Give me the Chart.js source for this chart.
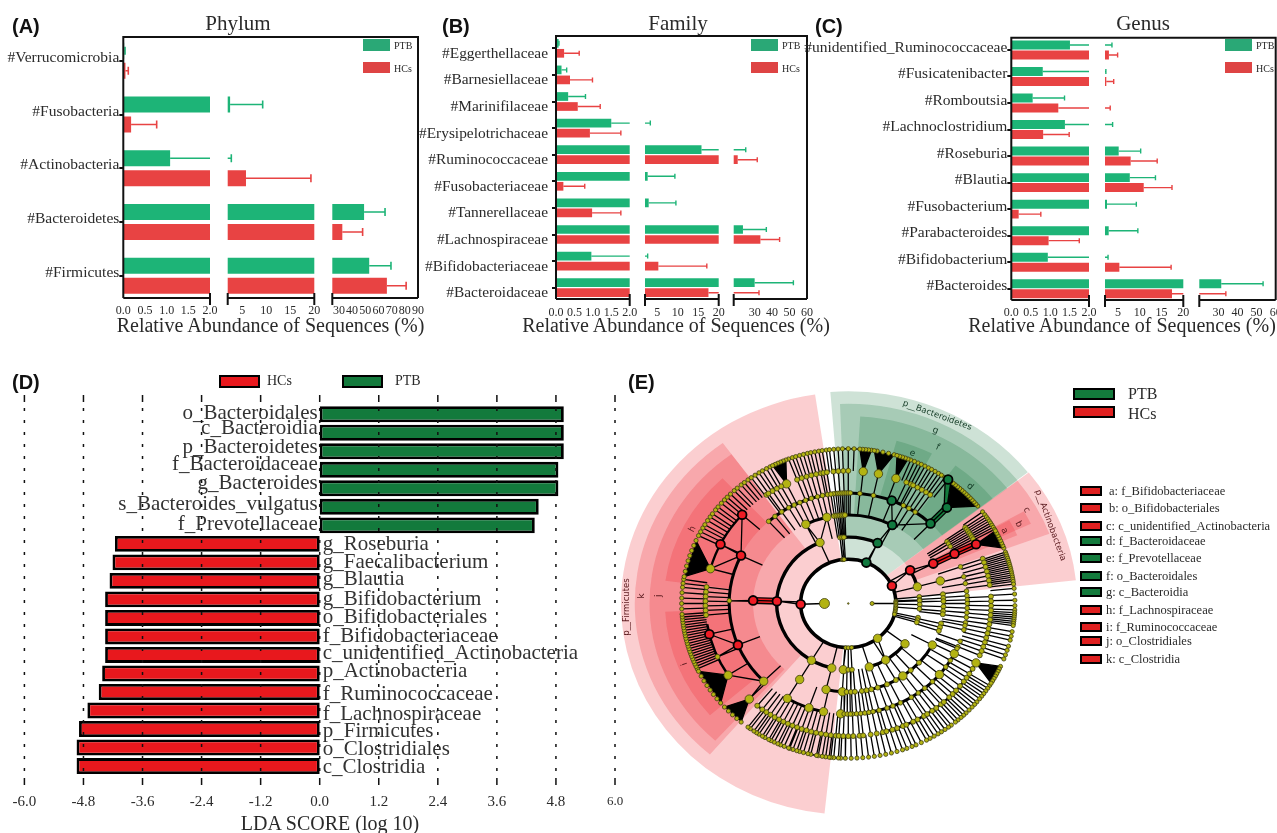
<!DOCTYPE html>
<html>
<head>
<meta charset="utf-8">
<style>
  html, body { margin: 0; padding: 0; background: #fff; }
  #page { position: relative; width: 1277px; height: 833px; overflow: hidden; }
  canvas { position: absolute; }
  .txt { position: absolute; white-space: nowrap; font-family: "Liberation Serif", serif; color: #2a2a2a; line-height: 1; }
  .swatch { position: absolute; }
</style>
<script src="https://cdn.jsdelivr.net/npm/chart.js@4/dist/chart.umd.js"></script>
</head>
<body>
<div id="page"></div>
<script>
// ---- panel A: phylum
const phylumLabels = ["#Verrucomicrobia", "#Fusobacteria", "#Actinobacteria", "#Bacteroidetes", "#Firmicutes"];
const phylumPtbMean = [0.02, 2.5, 1.08, 49.1, 53];
const phylumPtbSd = [0.02, 6.77, 1.67, 15.9, 16.5];
const phylumHcMean = [0.05, 0.18, 5.8, 32.6, 66.4];
const phylumHcSd = [0.065, 0.59, 13.5, 15.4, 14.6];
const phylumTicks = [0, 0.5, 1, 1.5, 2, 5, 10, 15, 20, 30, 40, 50, 60, 70, 80, 90];
const phylumTickLabels = ["0.0", "0.5", "1.0", "1.5", "2.0", "5", "10", "15", "20", "30", "40", "50", "60", "70", "80", "90"];

// ---- panel B: family
const familyLabels = ["#Eggerthellaceae", "#Barnesiellaceae", "#Marinifilaceae", "#Erysipelotrichaceae", "#Ruminococcaceae", "#Fusobacteriaceae", "#Tannerellaceae", "#Lachnospiraceae", "#Bifidobacteriaceae", "#Bacteroidaceae"];
const familyPtbMean = [0.07, 0.15, 0.33, 1.5, 15.8, 2.65, 2.9, 23.3, 0.96, 30];
const familyPtbSd = [0.01, 0.14, 0.47, 1.8, 9.1, 6.65, 6.65, 13.4, 1.69, 22.2];
const familyHcMean = [0.22, 0.38, 0.59, 0.92, 20.3, 0.2, 0.98, 33.3, 5.26, 17.5];
const familyHcSd = [0.41, 0.61, 0.61, 0.84, 11.2, 0.58, 0.78, 11, 11.84, 15];

// ---- panel C: genus
const genusLabels = ["#unidentified_Ruminococcaceae", "#Fusicatenibacter", "#Romboutsia", "#Lachnoclostridium", "#Roseburia", "#Blautia", "#Fusobacterium", "#Parabacteroides", "#Bifidobacterium", "#Bacteroides"];
const genusPtbMean = [1.51, 0.81, 0.55, 1.38, 5.15, 7.7, 2.46, 2.85, 0.94, 31.5];
const genusPtbSd = [2.09, 1.39, 0.82, 2.37, 5.05, 5.9, 6.74, 6.7, 1.76, 21.9];
const genusHcMean = [2.9, 2.3, 1.21, 0.82, 7.9, 10.9, 0.19, 0.96, 5.3, 17.4];
const genusHcSd = [2, 1.7, 1.99, 0.67, 6.1, 6.5, 0.57, 0.79, 11.9, 16.5];
const sixtyTicks = [0, 0.5, 1, 1.5, 2, 5, 10, 15, 20, 30, 40, 50, 60];
const sixtyTickLabels = ["0.0", "0.5", "1.0", "1.5", "2.0", "5", "10", "15", "20", "30", "40", "50", "60"];

// ---- panel D: LDA scores
const ldaLabels = ["o_Bacteroidales", "c_Bacteroidia", "p_Bacteroidetes", "f_Bacteroidaceae", "g_Bacteroides", "s_Bacteroides_vulgatus", "f_Prevotellaceae", "g_Roseburia", "g_Faecalibacterium", "g_Blautia", "g_Bifidobacterium", "o_Bifidobacteriales", "f_Bifidobacteriaceae", "c_unidentified_Actinobacteria", "p_Actinobacteria", "f_Ruminococcaceae", "f_Lachnospiraceae", "p_Firmicutes", "o_Clostridiales", "c_Clostridia"];
const ldaScores = [4.96, 4.96, 4.96, 4.85, 4.85, 4.45, 4.37, -4.16, -4.21, -4.27, -4.36, -4.36, -4.36, -4.36, -4.42, -4.49, -4.72, -4.89, -4.94, -4.94];
const ldaTicks = [-6, -4.8, -3.6, -2.4, -1.2, 0, 1.2, 2.4, 3.6, 4.8, 6];
const ldaTickLabels = ["-6.0", "-4.8", "-3.6", "-2.4", "-1.2", "0.0", "1.2", "2.4", "3.6", "4.8", "6.0"];

// ---- panel E: cladogram, node angles in degrees per taxonomic level
const level1Nodes = [180, 0];
const level2Nodes = [23.6, 67.7, 97, 96, 95, 181, 267, 270, 274, 308, 3, 1.5, 0, -2, -4, -6, -8, -10, -12, -14];
const level3Nodes = [5.8, 3.2, 2.3, -0.9, -4.6, -12.3, -14.5, -16.5, 30, 14.6, 113.3, 178, 239, 256.6, 96.6, 95, 93.5, 65.8, -72.9, -58.5, -37.4, -94, -90, -87];
const level4Nodes = [26.8, 14.8, 6, 3.5, 1.5, -2, -5, -7, -13.1, -15.6, -18, 98.6, 97.2, 96, 95, 94, 93, 92, 62.5, 116.5, 103, 178, -120.7, -103.5, -81.8, -79, -76, -72, -66, -60, -55, -49, -42, -28, -93.6, -91, -88.4, -86];
const level5Nodes = [26.8, 34, 32.6, 31, 19.4, 14, 10.4, 6.4, 4, 1.9, 0, -2.4, -4.8, -7.2, -10, -11.5, -13.8, -20, -23, 84.4, 77.8, 68.6, 62.4, 59.4, 55.8, 46.3, 96, 95, 94, 93, 92, 91, 90, 89, 97.2, 132, 128, 124, 120, 117, 114, 111, 108, 105, 102.5, 100, 98.4, 154.3, 178.6, 202, 224.7, -102, -109.3, -120.8, -88, -86, -84, -82, -80, -78, -75, -71, -68, -64, -58, -54, -50, -45, -40, -35, -31, -27, -24, -93.7, -92, -90.5, -89];
const level6Nodes = [26.5, 35, 34, 33, 32, 31, 30, 29, 19.7, 18, 16, 14, 12, 10, 8, 3, 1, -1, -3, -5, -7, -9, -11, -13, -15, -17, -19, -21, -23, 84, 77.8, 70.5, 66, 64, 63, 61, 59, 57, 55, 46.3, 111, 109, 107, 105, 103, 101, 100, 98.6, 96, 94, 92, 90, 138, 153.5, 164.8, 125, 115.6, 124, 122, 120, 118, 172.9, 175, 177, 179, 181, 183, 185, 193.4, 203.7, 212.7, 226.1, -129.6, -127, -125, -123, -121, -119, -117, -115, -113, -111, -109, -107, -105, -103, -101, -99, -97, -95, -93.8, -92, -90, -88, -85.5, -84, -81, -78.5, -76, -74.5, -72, -70, -67.5, -66, -63, -61, -58, -56.5, -54, -52, -49.5, -48, -45, -43, -41, -38.5, -36, -34, -32, -29.5, -26.6];
const level7Nodes = [53.2, 36.3, 35, 34, 33.1, 32.2, 31.3, 30.4, 29.5, 28.6, 19.4, 18.6, 17.8, 17, 16.2, 15.4, 14.6, 13.8, 13, 12.2, 11.4, 10.6, 9.8, 9, 8.2, 7.2, 5.6, 3.5, 1.2, -0.8, -2.4, -3.4, -4.2, -5, -5.8, -6.6, -7.4, -8.2, -10.5, -12.2, -13.7, -16, -17.6, -19.4, -21, -32, -33.2, -34.4, -35.6, -36.8, -38, -39.5, -40.7, -42, -43.5, -45, -46.2, -47.4, -48.8, -50, -51.8, -53, -54.5, -56, -57.4, -59, -60.6, -62, -64, -66, -67.5, -69.4, -71, -73, -75, -77, -79, -81, -83, -85, -87, -89, -91, -92.6, -93.4, -95, -96, -96.6, -97.8, -99, -100.4, -101, -103, -104, -105.6, -107, -108, -109.4, -110.6, -111, -112.6, -114, -115, -116.4, -117.6, -118.5, -120, -121, -122.4, -123.4, -124.5, -126, -127, 205, 204, 203, 202, 201, 200, 199, 198, 197, 196, 195, 194, 193, 192, 191, 190, 189, 188, 187, 186, 185, 184, 182, 180, 178, 176, 174, 172.5, 171, 154, 152.4, 150.8, 149.4, 147.6, 146, 144.6, 142.8, 141.4, 139.6, 138, 136.6, 135, 133.2, 131.8, 130, 128.6, 127, 125.6, 124, 122.4, 121, 119.4, 118, 111, 109.6, 108.4, 107, 105.6, 104.2, 103, 101.6, 100.2, 99, 97.6, 96.5, 95, 93.5, 92, 90, 88, 68, 66.6, 65.2, 64, 62.6, 61.2, 60, 58.6, 57.2, 56, 54.6];
// [child level, parent angle, child angles]: fans of leaves that come out of one node
const cladeFans = [
  [7, 26.5, [21, 22, 23, 24, 25, 26, 27, 28]],
  [7, 46.3, [39, 40, 41, 42, 43, 44, 45, 46, 47, 48, 49, 50, 51, 52]],
  [7, 84, [82, 83, 84, 85, 86]],
  [7, 77.8, [74, 76, 78, 80, 81]],
  [7, 70.5, [69, 70, 71, 72, 73]],
  [7, 115.6, [112, 113, 114, 115, 116, 117]],
  [7, 164.8, [156, 158, 160, 162, 164, 166, 168, 170]],
  [7, 212.7, [206, 208, 210, 212, 214, 216, 218, 220]],
  [7, 226.1, [222, 224, 226, 228, 230]],
  [7, -26.6, [-24, -25, -26, -27, -28, -29, -30, -31]]
];
// [level, from angle, to angle]: thick arcs joining sibling nodes
const cladeArcs = [[2, 0, 360], [3, 113, 256.6], [3, 65.8, 96.6], [3, 14.6, 30], [3, -72.9, -37.4], [4, -82, -28], [4, 62.5, 98.6], [4, 103, 116.5], [4, -7, -2], [4, -103.5, -93.6], [5, 154, 225], [5, 46.3, 132], [5, -88, -22], [5, -120.8, -102], [6, 138, 165], [6, 189, 213], [6, 172, 186], [6, -76, -27], [6, -130, -96], [6, 98, 111], [6, 118, 125], [6, 55, 66], [7, 86, 125], [7, -127, -93]];
// [level, angle, level, angle]: thin branches that are not radial
const cladeLinks = [[1, 180, 2, 181], [1, 0, 2, 0], [2, 23.6, 3, 30], [2, 67.7, 3, 65.8], [3, 65.8, 4, 62.5], [4, 62.5, 5, 68.6], [4, 62.5, 5, 46.3], [2, 181, 3, 178], [4, 178, 5, 178.6], [3, 113.3, 4, 116.5], [3, 113.3, 4, 103], [5, 154.3, 6, 153.5], [5, 154.3, 6, 138], [5, 154.3, 6, 164.8], [5, 202, 6, 193.4], [5, 202, 6, 203.7], [5, 224.7, 6, 226.1], [5, 224.7, 6, 212.7], [2, 97, 3, 96.6], [2, 308, 3, -58.5], [3, 30, 4, 26.8], [2, 267, 3, -94]];
// [level, angle, level, angle]: biomarker branches drawn as coloured bars
const redBranches = [[3, 178, 4, 178], [4, 26.8, 5, 26.8], [5, 26.8, 6, 26.5]];
const greenBranches = [[5, 46.3, 6, 46.3], [6, 46.3, 7, 53.2]];
const redNodes = [[2, 23.6], [3, 30], [4, 26.8], [5, 26.8], [6, 26.5], [2, 181], [3, 178], [4, 178], [5, 154.3], [5, 202], [6, 138], [6, 153.5], [6, 193.4]];
const greenNodes = [[2, 67.7], [3, 65.8], [4, 62.5], [5, 68.6], [5, 46.3], [6, 46.3], [7, 53.2]];
const largeNodes = [[1, 180], [2, 308], [3, 113.3], [3, 239], [3, 256.6], [3, -37.4], [3, -58.5], [3, -72.9], [3, 14.6], [3, -94], [4, 14.8], [4, 116.5], [4, 103], [4, -28], [4, -55], [4, -93.6], [4, -120.7], [4, -103.5], [5, 224.7], [5, -93.7], [5, -27], [5, -40], [5, -102], [5, -109.3], [5, -120.8], [6, 84], [6, 77.8], [6, 70.5], [6, 115.6], [6, 164.8], [6, 212.7], [6, -26.6], [6, 226.1]];
// [inner level, outer level, from angle, to angle, group]: shaded sectors
const cladeSectors = [
  [2, 9.55, 98.4, 264, "red"], [3, 8.97, 126, 229.6, "red"], [4, 8.35, 126, 228, "red"], [5, 7.75, 133, 172.4, "red"], [5, 7.7, 182.8, 221, "red"],
  [2, 9.6, 38.2, 94.5, "green"], [3, 9.03, 38, 92.2, "green"], [4, 8.47, 37.9, 86.6, "green"], [5, 7.64, 62.6, 74.6, "green"], [5, 7.7, 38, 54.2, "green"],
  [2, 9.62, 6.3, 38, "red"], [3, 9.02, 20.5, 38, "red"], [4, 8.48, 25.2, 29.5, "red"], [5, 7.74, 23.5, 29.1, "red"]
];
// [text, level, angle, rotation]: sector labels
const sectorLabels = [
  ["p__Bacteroidetes", 9.29, 66.3, 20], ["g", 8.64, 64.9, 20], ["f", 8, 62, 25], ["e", 7.3, 68.4, 18], ["d", 7.36, 46, 40],
  ["p__Actinobacteria", 9.2, 22.6, 70], ["c", 8.6, 29.5, 60], ["b", 8, 26.6, 62], ["a", 7.33, 26.6, 62],
  ["p__Firmicutes", 9.3, 181, -90], ["k", 8.67, 177.7, -90], ["j", 7.97, 177.5, -90], ["h", 7.36, 152.8, -62], ["i", 7.4, 201.7, -110]
];
const cladeKeyLabels = ["a: f_Bifidobacteriaceae", "b: o_Bifidobacteriales", "c: c_unidentified_Actinobacteria", "d: f_Bacteroidaceae", "e: f_Prevotellaceae", "f: o_Bacteroidales", "g: c_Bacteroidia", "h: f_Lachnospiraceae", "i: f_Ruminococcaceae", "j: o_Clostridiales", "k: c_Clostridia"];
const cladeKeyGroups = ["red", "red", "red", "green", "green", "green", "green", "red", "red", "red", "red"];

const PTB_GREEN = "#1db477";
const HC_RED = "#e84343";
const LDA_GREEN = "#137a3c";
const LDA_RED = "#e8181d";
const SERIF = '"Liberation Serif", serif';

Chart.defaults.animation = false;
Chart.defaults.events = [];
Chart.defaults.font.family = SERIF;
Chart.defaults.color = "#2a2a2a";

const page = document.getElementById("page");

function addCanvas(id, left, top, width, height) {
  const canvas = document.createElement("canvas");
  canvas.id = id;
  canvas.width = width;
  canvas.height = height;
  canvas.style.left = left + "px";
  canvas.style.top = top + "px";
  canvas.style.width = width + "px";
  canvas.style.height = height + "px";
  page.appendChild(canvas);
  return canvas.getContext("2d");
}

// y is the vertical centre of the text; align is left, center or right
function addText(text, x, y, size, align, family, weight) {
  const div = document.createElement("div");
  div.className = "txt";
  div.textContent = text;
  div.style.left = x + "px";
  div.style.top = y + "px";
  div.style.fontSize = size + "px";
  if (family) div.style.fontFamily = family;
  if (weight) { div.style.fontWeight = weight; div.style.color = "#111"; }
  const shift = align === "center" ? "-50%" : align === "right" ? "-100%" : "0";
  div.style.transform = "translate(" + shift + ",-50%)";
  page.appendChild(div);
}

function addSwatch(x, y, width, height, fill, border) {
  const div = document.createElement("div");
  div.className = "swatch";
  div.style.left = x + "px";
  div.style.top = y + "px";
  div.style.width = width + "px";
  div.style.height = height + "px";
  div.style.background = fill;
  div.style.boxSizing = "border-box";
  if (border) div.style.border = border + "px solid #000";
  page.appendChild(div);
}

// ---- broken x axis: each segment maps its own value range onto its own pixels
const brokenSegments = {};

class BrokenAxis extends Chart.LinearScale {
  getPixelForValue(value) {
    const segments = brokenSegments[this.chart.canvas.id];
    for (const seg of segments) {
      if (value < seg.min) return seg.from;
      if (value <= seg.max) return seg.from + (value - seg.min) / (seg.max - seg.min) * (seg.to - seg.from);
    }
    return segments[segments.length - 1].to;
  }
}
BrokenAxis.id = "brokenAxis";
BrokenAxis.defaults = Chart.LinearScale.defaults;
Chart.register(BrokenAxis);

// error bars, white gaps and the frame go on top of the bars
const abundanceFrame = {
  id: "abundanceFrame",
  afterDatasetsDraw(chart, args, opts) {
    const { ctx, chartArea } = chart;
    const x = chart.scales.x;
    const segments = brokenSegments[chart.canvas.id];
    ctx.save();
    chart.data.datasets.forEach((dataset, i) => {
      const bars = chart.getDatasetMeta(i).data;
      ctx.strokeStyle = dataset.backgroundColor;
      ctx.lineWidth = opts.errorWidth;
      bars.forEach((bar, j) => {
        const high = dataset.data[j] + dataset.errors[j];
        const start = x.getPixelForValue(dataset.data[j]);
        const end = x.getPixelForValue(high);
        ctx.beginPath();
        ctx.moveTo(start, bar.y);
        ctx.lineTo(end, bar.y);
        ctx.moveTo(end, bar.y - opts.capSize);
        ctx.lineTo(end, bar.y + opts.capSize);
        ctx.stroke();
      });
    });
    // hide whatever falls inside the axis breaks
    ctx.fillStyle = "#fff";
    for (let i = 0; i < segments.length - 1; i++) {
      ctx.fillRect(segments[i].to, opts.top + 1, segments[i + 1].from - segments[i].to, chartArea.bottom - opts.top);
    }
    ctx.strokeStyle = "#111";
    ctx.lineWidth = 2;
    ctx.beginPath();
    ctx.moveTo(chartArea.left, opts.bottom);
    ctx.lineTo(chartArea.left, opts.top);
    ctx.lineTo(chartArea.right, opts.top);
    ctx.lineTo(chartArea.right, opts.bottom);
    segments.forEach((seg) => {
      ctx.moveTo(seg.from, opts.bottom);
      ctx.lineTo(seg.to, opts.bottom);
    });
    segments.forEach((seg, i) => {
      if (i > 0) { ctx.moveTo(seg.from, opts.bottom - 5); ctx.lineTo(seg.from, opts.bottom + 7); }
      if (i < segments.length - 1) { ctx.moveTo(seg.to, opts.bottom - 5); ctx.lineTo(seg.to, opts.bottom + 7); }
    });
    ctx.stroke();
    ctx.restore();
  }
};

function drawAbundancePanel(panel) {
  const height = 345;
  const ctx = addCanvas(panel.id, panel.left, 0, panel.width, height);
  brokenSegments[panel.id] = panel.segments.map((seg) => ({
    min: seg.min, max: seg.max, from: seg.from - panel.left, to: seg.to - panel.left
  }));
  new Chart(ctx, {
    type: "bar",
    data: {
      labels: panel.labels,
      datasets: [
        { label: "PTB", data: panel.ptbMean, errors: panel.ptbSd, backgroundColor: PTB_GREEN },
        { label: "HCs", data: panel.hcMean, errors: panel.hcSd, backgroundColor: HC_RED }
      ]
    },
    options: {
      indexAxis: "y",
      responsive: false,
      categoryPercentage: panel.categoryPercent,
      barPercentage: panel.barPercent,
      layout: { padding: { top: panel.areaTop, right: panel.left + panel.width - panel.areaRight, left: 0, bottom: 0 } },
      plugins: {
        legend: { display: false },
        tooltip: { enabled: false },
        abundanceFrame: { top: panel.frameTop, bottom: panel.frameBottom, errorWidth: panel.errorWidth, capSize: panel.capSize }
      },
      scales: {
        x: {
          type: "brokenAxis",
          min: 0,
          max: panel.ticks[panel.ticks.length - 1],
          border: { display: false },
          grid: { display: false, drawTicks: false },
          ticks: {
            autoSkip: false, maxRotation: 0, minRotation: 0, padding: panel.tickPadding,
            font: { size: 12 },
            callback: (value, i) => panel.tickLabels[i]
          },
          afterBuildTicks: (scale) => { scale.ticks = panel.ticks.map((value) => ({ value })); },
          afterFit: (scale) => {
            scale.height = height - panel.areaBottom;
            scale.paddingLeft = 0;
            scale.paddingRight = 0;
          }
        },
        y: {
          border: { display: false },
          grid: { offset: false, drawOnChartArea: false, color: "#111", lineWidth: 2, tickLength: 4, tickColor: "#111" },
          ticks: { padding: panel.labelPadding, autoSkip: false, font: { size: panel.labelSize }, labelOffset: panel.labelShift },
          afterFit: (scale) => { scale.width = panel.areaLeft - panel.left; }
        }
      }
    },
    plugins: [abundanceFrame]
  });
  // panel title, axis title and small legend
  addText(panel.letter, panel.letterX, 26, 20, "left", '"Liberation Sans", sans-serif', "bold");
  addText(panel.title, panel.titleX, 23, 21, "center");
  addText("Relative Abundance of Sequences (%)", panel.axisTitleX, 325, 20, "center");
  addSwatch(panel.legendX, 39, 27, 12, "#2aa876");
  addSwatch(panel.legendX, 62, 27, 11, "#de4444");
  addText("PTB", panel.legendX + 31, 45.5, 10, "left");
  addText("HCs", panel.legendX + 31, 68.5, 10, "left");
}

drawAbundancePanel({
  id: "phylumChart", letter: "(A)", letterX: 12, title: "Phylum", titleX: 238, axisTitleX: 270.5,
  left: 0, width: 440, areaLeft: 123.3, areaRight: 418, areaTop: 33.9, areaBottom: 302.7, frameTop: 37, frameBottom: 298,
  labels: phylumLabels, ptbMean: phylumPtbMean, ptbSd: phylumPtbSd, hcMean: phylumHcMean, hcSd: phylumHcSd,
  ticks: phylumTicks, tickLabels: phylumTickLabels, tickPadding: 1, labelSize: 15.5, labelPadding: 0, labelShift: -3,
  categoryPercent: 0.744, barPercent: 0.8, errorWidth: 1.6, capSize: 4, legendX: 363,
  segments: [{ min: 0, max: 2, from: 123.3, to: 210 }, { min: 2, max: 20, from: 227.7, to: 314.3 }, { min: 25, max: 90, from: 332.3, to: 418 }]
});
drawAbundancePanel({
  id: "familyChart", letter: "(B)", letterX: 442, title: "Family", titleX: 678, axisTitleX: 676,
  left: 415, width: 400, areaLeft: 556, areaRight: 807, areaTop: 35, areaBottom: 301, frameTop: 36, frameBottom: 299,
  labels: familyLabels, ptbMean: familyPtbMean, ptbSd: familyPtbSd, hcMean: familyHcMean, hcSd: familyHcSd,
  ticks: sixtyTicks, tickLabels: sixtyTickLabels, tickPadding: 5, labelSize: 15.4, labelPadding: 4, labelShift: 5.5,
  categoryPercent: 0.752, barPercent: 0.87, errorWidth: 1.4, capSize: 2.5, legendX: 751,
  segments: [{ min: 0, max: 2, from: 556, to: 629.7 }, { min: 2, max: 20, from: 645, to: 718.7 }, { min: 18, max: 60, from: 733.7, to: 807 }]
});
drawAbundancePanel({
  id: "genusChart", letter: "(C)", letterX: 815, title: "Genus", titleX: 1143, axisTitleX: 1122,
  left: 800, width: 477, areaLeft: 1011.3, areaRight: 1275.7, areaTop: 36.7, areaBottom: 302, frameTop: 37.7, frameBottom: 300,
  labels: genusLabels, ptbMean: genusPtbMean, ptbSd: genusPtbSd, hcMean: genusHcMean, hcSd: genusHcSd,
  ticks: sixtyTicks, tickLabels: sixtyTickLabels, tickPadding: 4, labelSize: 15.5, labelPadding: 0, labelShift: -2.5,
  categoryPercent: 0.752, barPercent: 0.9, errorWidth: 1.4, capSize: 2.5, legendX: 1225,
  segments: [{ min: 0, max: 2, from: 1011.3, to: 1089 }, { min: 2, max: 20, from: 1105, to: 1183.3 }, { min: 20, max: 60, from: 1199.3, to: 1275.7 }]
});

// ---- panel D
// small vertical nudges of the taxon names, as they sit unevenly in the figure
const ldaNameShift = [-1, -4, -4, -5, -5, -2, -1, 1, 0, -1, 0, 0, 0, -1, -2, 3, 4, 2, 2, 1];

const ldaOverlay = {
  id: "ldaOverlay",
  afterDatasetsDraw(chart) {
    const { ctx } = chart;
    const x = chart.scales.x;
    const y = chart.scales.y;
    ctx.save();
    ctx.fillStyle = "#333";
    ctx.font = "21px " + SERIF;
    ctx.textBaseline = "middle";
    ldaLabels.forEach((name, i) => {
      const score = ldaScores[i];
      ctx.textAlign = score > 0 ? "right" : "left";
      ctx.fillText(name, x.getPixelForValue(0) + (score > 0 ? -2 : 3), y.getPixelForValue(i) + ldaNameShift[i]);
    });
    // dotted verticals run over bars and names alike
    ctx.strokeStyle = "#111";
    ctx.lineWidth = 1.5;
    ldaTicks.forEach((value) => {
      const px = x.getPixelForValue(value);
      ctx.setLineDash([]);
      ctx.beginPath();
      ctx.moveTo(px, 35); ctx.lineTo(px, 42);
      ctx.moveTo(px, 418); ctx.lineTo(px, 425);
      ctx.stroke();
      ctx.setLineDash([3, 9]);
      ctx.beginPath();
      ctx.moveTo(px, 48); ctx.lineTo(px, 416);
      ctx.stroke();
    });
    ctx.restore();
  }
};

new Chart(addCanvas("ldaChart", 0, 360, 630, 473), {
  type: "bar",
  data: {
    labels: ldaLabels,
    datasets: [{
      label: "LDA",
      data: ldaScores,
      backgroundColor: (c) => (c.raw > 0 ? LDA_GREEN : LDA_RED),
      borderColor: "#000",
      borderWidth: 2.8,
      borderSkipped: false
    }]
  },
  options: {
    indexAxis: "y",
    responsive: false,
    categoryPercentage: 1,
    barPercentage: 0.86,
    layout: { padding: { left: 24.4, right: 15, top: 45, bottom: 0 } },
    plugins: { legend: { display: false }, tooltip: { enabled: false } },
    scales: {
      x: {
        min: -6, max: 6,
        border: { display: false },
        grid: { display: false, drawTicks: false },
        ticks: {
          autoSkip: false, maxRotation: 0, padding: 18,
          font: (c) => ({ size: c.index === 10 ? 13 : 15 }),
          callback: (value, i) => ldaTickLabels[i]
        },
        afterBuildTicks: (scale) => { scale.ticks = ldaTicks.map((value) => ({ value })); },
        afterFit: (scale) => {
          scale.height = 473 - 415.3;
          scale.paddingLeft = 0;
          scale.paddingRight = 0;
        }
      },
      y: { display: false }
    }
  },
  plugins: [ldaOverlay]
});

addText("(D)", 12, 382, 20, "left", '"Liberation Sans", sans-serif', "bold");
addSwatch(219, 374.5, 41, 13, LDA_RED, 2);
addText("HCs", 267, 381, 14, "left");
addSwatch(341.5, 374.5, 41, 13, LDA_GREEN, 2);
addText("PTB", 395, 381, 14, "left");
addText("LDA SCORE (log 10)", 330, 823, 20, "center");

// ---- panel E
function polar(level, angle) {
  const rad = angle * Math.PI / 180;
  return { x: level * Math.cos(rad), y: level * Math.sin(rad) };
}

const levelNodes = [level1Nodes, level2Nodes, level3Nodes, level4Nodes, level5Nodes, level6Nodes, level7Nodes];
const levelRadius = [2, 2, 2.4, 2.5, 2.3, 2.5, 2.1];
const isLarge = (level, angle) => largeNodes.some((n) => n[0] === level && n[1] === angle);

const yellowPoints = [];
const branchPoints = [];
function addBranch(levelA, angleA, levelB, angleB) {
  branchPoints.push(polar(levelA, angleA), polar(levelB, angleB), { x: NaN, y: NaN });
}

levelNodes.forEach((angles, i) => {
  const level = i + 1;
  angles.forEach((angle) => {
    const r = isLarge(level, angle) ? (level === 1 ? 5 : 4.2) : levelRadius[i];
    yellowPoints.push({ ...polar(level, angle), r });
    if (level >= 3) addBranch(level - 1, angle, level, angle);
  });
});
cladeFans.forEach(([level, parent, children]) => {
  children.forEach((angle) => {
    yellowPoints.push({ ...polar(level, angle), r: levelRadius[level - 1] });
    addBranch(level - 1, parent, level, angle);
  });
});
cladeLinks.forEach(([la, a, lb, b]) => addBranch(la, a, lb, b));
yellowPoints.push({ x: 0, y: 0, r: 0.8 });

const toBubble = ([level, angle]) => ({ ...polar(level, angle), r: 4.4 });
const arcWidth = [0, 0, 3.6, 3.4, 3, 3, 2.4, 1.4];

const cladeUnderlay = {
  id: "cladeUnderlay",
  beforeDatasetsDraw(chart) {
    const { ctx } = chart;
    const x = chart.scales.x;
    const y = chart.scales.y;
    const cx = x.getPixelForValue(0);
    const cy = y.getPixelForValue(0);
    const rx = (level) => x.getPixelForValue(level) - cx;
    const ry = (level) => cy - y.getPixelForValue(level);
    const rad = (deg) => -deg * Math.PI / 180;
    const at = (level, angle) => {
      const p = polar(level, angle);
      return [x.getPixelForValue(p.x), y.getPixelForValue(p.y)];
    };
    ctx.save();
    cladeSectors.forEach(([inner, outer, from, to, group]) => {
      ctx.fillStyle = group === "red" ? "rgba(235,30,40,0.22)" : "rgba(10,110,50,0.2)";
      ctx.beginPath();
      ctx.ellipse(cx, cy, rx(outer), ry(outer), 0, rad(from), rad(to), true);
      ctx.ellipse(cx, cy, rx(inner), ry(inner), 0, rad(to), rad(from), false);
      ctx.closePath();
      ctx.fill();
    });
    sectorLabels.forEach(([text, level, angle, rotation]) => {
      const [px, py] = at(level, angle);
      ctx.save();
      ctx.translate(px, py);
      ctx.rotate(rotation * Math.PI / 180);
      ctx.font = (text.length > 1 ? 8.5 : 9) + 'px "DejaVu Sans", sans-serif';
      ctx.fillStyle = angle > 38 && angle < 95 ? "#123a24" : "#5a1a1e";
      ctx.textAlign = "center";
      ctx.textBaseline = "middle";
      ctx.fillText(text, 0, 0);
      ctx.restore();
    });
    // black wedges where leaves fan out from one node
    ctx.fillStyle = "#000";
    cladeFans.forEach(([level, parent, children]) => {
      const [ax, ay] = at(level - 1, parent);
      const [bx, by] = at(level, children[0]);
      const [dx, dy] = at(level, children[children.length - 1]);
      ctx.beginPath();
      ctx.moveTo(ax, ay);
      ctx.lineTo(bx, by);
      ctx.lineTo(dx, dy);
      ctx.closePath();
      ctx.fill();
    });
    ctx.strokeStyle = "#000";
    cladeArcs.forEach(([level, from, to]) => {
      ctx.lineWidth = arcWidth[level];
      ctx.beginPath();
      ctx.ellipse(cx, cy, rx(level), ry(level), 0, rad(from), rad(to), true);
      ctx.stroke();
    });
    const thickBranch = (branch, color) => {
      const [ax, ay] = at(branch[0], branch[1]);
      const [bx, by] = at(branch[2], branch[3]);
      ctx.lineCap = "butt";
      ctx.strokeStyle = "#000";
      ctx.lineWidth = 7;
      ctx.beginPath(); ctx.moveTo(ax, ay); ctx.lineTo(bx, by); ctx.stroke();
      ctx.strokeStyle = color;
      ctx.lineWidth = 4.4;
      ctx.beginPath(); ctx.moveTo(ax, ay); ctx.lineTo(bx, by); ctx.stroke();
    };
    redBranches.forEach((b) => thickBranch(b, "#e8181d"));
    greenBranches.forEach((b) => thickBranch(b, LDA_GREEN));
    ctx.restore();
  }
};

// fixed limits set after the data so the unsorted branch line is kept whole
function fixedAxis(min, max) {
  return {
    type: "linear",
    display: false,
    bounds: "data",
    afterDataLimits: (scale) => { scale.min = min; scale.max = max; }
  };
}

new Chart(addCanvas("cladeChart", 620, 370, 460, 463), {
  type: "bubble",
  data: {
    datasets: [
      { label: "HCs", data: redNodes.map(toBubble), backgroundColor: "#ee1c25", borderColor: "#000", borderWidth: 1.8, order: 0 },
      { label: "PTB", data: greenNodes.map(toBubble), backgroundColor: "#11793f", borderColor: "#000", borderWidth: 1.8, order: 0 },
      { label: "other", data: yellowPoints, backgroundColor: "#b3b312", borderColor: "#3d3d10", borderWidth: 0.8, order: 1 },
      { type: "line", label: "branches", data: branchPoints, borderColor: "#000", borderWidth: 1.3, pointRadius: 0, spanGaps: false, tension: 0, order: 2 }
    ]
  },
  options: {
    responsive: false,
    layout: { padding: 0, autoPadding: false },
    plugins: { legend: { display: false }, tooltip: { enabled: false } },
    scales: { x: fixedAxis(-9.59, 9.735), y: fixedAxis(-10.38, 10.56) }
  },
  plugins: [cladeUnderlay]
});

addText("(E)", 628, 382, 20, "left", '"Liberation Sans", sans-serif', "bold");
addSwatch(1073, 388, 42, 12, LDA_GREEN, 2);
addText("PTB", 1128, 394, 16, "left");
addSwatch(1073, 406, 42, 12, "#e02020", 2);
addText("HCs", 1128, 414, 16, "left");

const keyY = [490.7, 507.5, 525.5, 541, 558, 576, 592, 610, 627, 641, 659];
cladeKeyLabels.forEach((label, i) => {
  addSwatch(1080, keyY[i] - 5, 22, 10, cladeKeyGroups[i] === "red" ? "#e02020" : LDA_GREEN, 2);
  addText(label, i < 2 ? 1109 : 1106, keyY[i], 12.5, "left");
});
</script>
</body>
</html>
